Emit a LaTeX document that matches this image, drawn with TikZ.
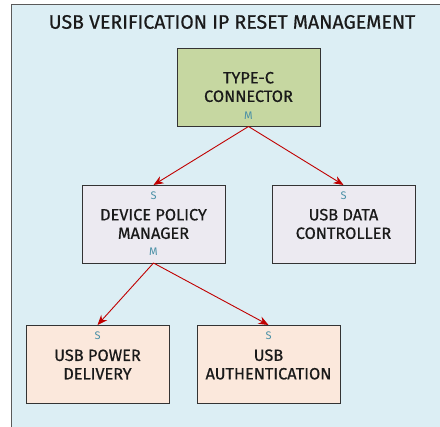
\documentclass[tikz,border=0pt]{standalone}
\usepackage{fontspec}
\setmainfont{Fira Sans}[FakeBold=0.6,AutoFakeBold=0.6]
\newfontfamily\portfont{Fira Sans}
\usetikzlibrary{arrows.meta,calc}

\definecolor{panelfill}{HTML}{DCEEF4}
\definecolor{panelline}{HTML}{5A5A5A}
\definecolor{greenfill}{HTML}{C6D7A1}
\definecolor{greyfill}{HTML}{ECEAF1}
\definecolor{peachfill}{HTML}{FBE8DC}
\definecolor{linkred}{HTML}{C00000}
\definecolor{portteal}{HTML}{4A90A6}
\definecolor{inktext}{HTML}{1A1A1A}

\tikzset{
  block/.style={draw=black!80, line width=0.9pt, minimum width=143pt, minimum height=78pt,
    inner sep=0pt, outer sep=0pt},
  blocktext/.style={text=inktext, align=center, font=\fontsize{16.3}{18.5}\selectfont, inner sep=0pt},
  port/.style={text=portteal, font=\portfont\fontsize{11}{12}\selectfont, inner sep=0pt},
  link/.style={draw=linkred, line width=0.9pt, -{Stealth[length=10pt,width=8pt]}},
}

\begin{document}
\begin{tikzpicture}[x=1pt,y=-1pt]
\useasboundingbox (0,0) rectangle (440,427);
\clip (0,0) rectangle (440,427);

% outer panel
\draw[panelline, fill=panelfill, line width=1pt] (11,5) rectangle (446,434);
\node[text=inktext, font=\fontsize{19.5}{20}\selectfont, inner sep=0pt] (title) at (232,22)
  {USB VERIFICATION IP RESET MANAGEMENT};

% blocks
\node[block, fill=greenfill] (tc)   at (248.5,87.5) {};
\node[block, fill=greyfill]  (dpm)  at (153.5,224)  {};
\node[block, fill=greyfill]  (udc)  at (343.5,224)  {};
\node[block, fill=peachfill] (upd)  at (97.5,364)   {};
\node[block, fill=peachfill] (uau)  at (268.5,364)  {};

% block captions
\node[blocktext] (tcT)  at ($(tc)+(0,-0.5)$)  {TYPE-C\\CONNECTOR};
\node[blocktext] (dpmT) at ($(dpm)+(0,0)$)    {DEVICE POLICY\\MANAGER};
\node[blocktext] (udcT) at ($(udc)+(0,0)$)    {USB DATA\\CONTROLLER};
\node[blocktext] (updT) at ($(upd)+(0,0.5)$)  {USB POWER\\DELIVERY};
\node[blocktext] (uauT) at ($(uau)+(0,0.5)$)  {USB\\AUTHENTICATION};

% master / slave ports
\node[port] (tcM)  at ($(tc.south)+(0,-11)$)  {M};
\node[port] (dpmS) at ($(dpm.north)+(0,11)$)  {S};
\node[port] (dpmM) at ($(dpm.south)+(0,-11)$) {M};
\node[port] (udcS) at ($(udc.north)+(0,11)$)  {S};
\node[port] (updS) at ($(upd.north)+(0,11)$)  {S};
\node[port] (uauS) at ($(uau.north)+(0,11)$)  {S};

% reset links
\draw[link] (tc.south) -- (dpm.north);
\draw[link] (tc.south) -- (udc.north);
\draw[link] (dpm.south) -- (upd.north);
\draw[link] (dpm.south) -- (uau.north);
\end{tikzpicture}
\end{document}
